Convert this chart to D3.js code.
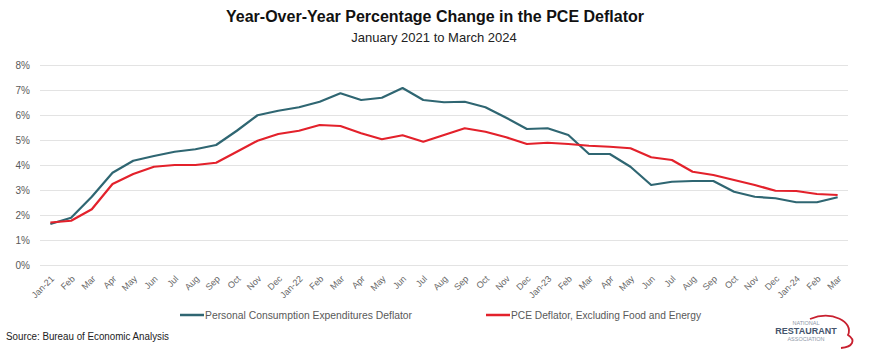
<html>
<head>
  <meta charset="utf-8">
  <script src="https://d3js.org/d3.v7.min.js"></script>
  <style>
    body { margin: 0; background: #fff; }
    text { font-family: "Liberation Sans", Arial, sans-serif; }
  </style>
</head>
<body>
<svg id="chart" width="870" height="353"></svg>
<script>
// months, Jan 2021 .. Mar 2024
var months = ["Jan-21","Feb","Mar","Apr","May","Jun","Jul","Aug","Sep","Oct","Nov","Dec",
              "Jan-22","Feb","Mar","Apr","May","Jun","Jul","Aug","Sep","Oct","Nov","Dec",
              "Jan-23","Feb","Mar","Apr","May","Jun","Jul","Aug","Sep","Oct","Nov","Dec",
              "Jan-24","Feb","Mar"];

var pce = [1.64,1.89,2.73,3.69,4.17,4.36,4.53,4.63,4.80,5.37,5.99,6.17,
           6.31,6.53,6.87,6.60,6.69,7.08,6.60,6.51,6.53,6.31,5.89,5.44,
           5.47,5.20,4.44,4.44,3.93,3.20,3.33,3.36,3.36,2.93,2.73,2.67,
           2.51,2.51,2.71];

var core = [1.70,1.77,2.23,3.24,3.64,3.93,4.00,4.00,4.09,4.53,4.97,5.24,
            5.37,5.60,5.56,5.27,5.03,5.19,4.93,5.20,5.47,5.33,5.11,4.84,
            4.89,4.84,4.77,4.73,4.67,4.31,4.20,3.73,3.60,3.40,3.20,2.97,
            2.96,2.84,2.80];

var yTicks = [0,1,2,3,4,5,6,7,8];

var seriesNames = ["Personal Consumption Expenditures Deflator",
                   "PCE Deflator, Excluding Food and Energy"];
var seriesColors = ["#2f6672", "#e3212b"];

var svg = d3.select("#chart");
var m = { l: 40, r: 848, t: 65, b: 265 };

var x = d3.scaleBand().domain(d3.range(months.length)).range([m.l, m.r]);
var y = d3.scaleLinear().domain([0, 8]).range([m.b, m.t]);

// title
svg.append("text").attr("x", 435).attr("y", 22).attr("text-anchor", "middle")
    .attr("font-size", 16).attr("font-weight", "bold").attr("fill", "#111")
    .text("Year-Over-Year Percentage Change in the PCE Deflator");
svg.append("text").attr("x", 434).attr("y", 42).attr("text-anchor", "middle")
    .attr("font-size", 13).attr("fill", "#222")
    .text("January 2021 to March 2024");

// grid + y labels
var yAxis = svg.append("g").attr("transform", "translate(" + m.l + ",0)")
    .call(d3.axisLeft(y).tickValues(yTicks).tickSize(-(m.r - m.l))
          .tickFormat(d => d + "%").tickPadding(10));
yAxis.select(".domain").remove();
yAxis.selectAll(".tick line").attr("stroke", "#e3e3e3").attr("stroke-width", 1);
yAxis.selectAll(".tick text").attr("font-size", 10).attr("fill", "#595959")
    .attr("font-family", "Liberation Sans, Arial, sans-serif");

// x labels
var xAxis = svg.append("g").attr("transform", "translate(0," + m.b + ")")
    .call(d3.axisBottom(x).tickSize(0).tickFormat(i => months[i]));
xAxis.select(".domain").remove();
xAxis.selectAll(".tick text")
    .attr("font-size", 9).attr("fill", "#666")
    .attr("font-family", "Liberation Sans, Arial, sans-serif")
    .attr("text-anchor", "end")
    .attr("transform", "translate(0,10) rotate(-45)")
    .attr("dy", "0.35em");

// lines
var line = d3.line().x((d, i) => x(i) + x.bandwidth() / 2).y(d => y(d));
[pce, core].forEach(function (s, k) {
  svg.append("path").datum(s).attr("d", line)
      .attr("fill", "none").attr("stroke", seriesColors[k])
      .attr("stroke-width", 2.2).attr("stroke-linejoin", "round");
});

// legend
var legX = [180, 486];
seriesNames.forEach(function (n, k) {
  var g = svg.append("g").attr("transform", "translate(" + legX[k] + ",315)");
  g.append("line").attr("x1", 0).attr("x2", 24).attr("y1", 0).attr("y2", 0)
      .attr("stroke", seriesColors[k]).attr("stroke-width", 2.5);
  g.append("text").attr("x", 25).attr("y", 3.5).attr("font-size", 10)
      .attr("fill", "#595959").attr("textLength", k ? 190 : 207)
      .attr("lengthAdjust", "spacingAndGlyphs").text(n);
});

// source
svg.append("text").attr("x", 6).attr("y", 340).attr("font-size", 10)
    .attr("fill", "#222").attr("textLength", 163)
    .attr("lengthAdjust", "spacingAndGlyphs")
    .text("Source: Bureau of Economic Analysis");

// logo
var logo = svg.append("g").attr("transform", "translate(806,332)");
logo.append("path")
    .attr("d", "M4,-13 C26,-22 48,-10 42,3 C50,8 47,15 35,16")
    .attr("fill", "none").attr("stroke", "#c8202f").attr("stroke-width", 1.8);
logo.append("text").attr("x", 0).attr("y", -7).attr("text-anchor", "middle")
    .attr("font-size", 5.5).attr("fill", "#8f98a8").text("NATIONAL");
logo.append("text").attr("x", 0).attr("y", 2).attr("text-anchor", "middle")
    .attr("font-size", 9).attr("font-weight", "bold").attr("fill", "#44546c").text("RESTAURANT");
logo.append("text").attr("x", 0).attr("y", 9).attr("text-anchor", "middle")
    .attr("font-size", 5.5).attr("fill", "#8f98a8").text("ASSOCIATION");
</script>
</body>
</html>
